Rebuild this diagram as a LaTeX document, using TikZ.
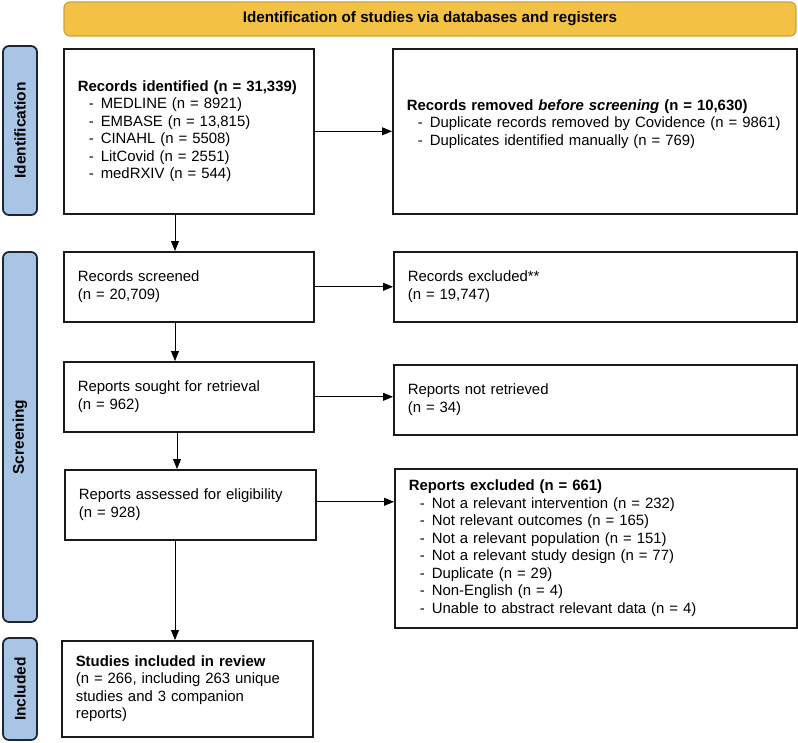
\documentclass[tikz,border=0pt]{standalone}
\usepackage{fontspec}
\setmainfont{Liberation Sans}
\usetikzlibrary{arrows.meta}
\definecolor{bannerfill}{HTML}{F3C244}
\definecolor{bannerdraw}{HTML}{C9A33E}
\definecolor{sidefill}{HTML}{A9C5E6}
\definecolor{sidedraw}{HTML}{1E2633}
\definecolor{boxdraw}{HTML}{1A1A1A}
\newcommand{\itm}[1]{\\\hspace*{11pt}\makebox[12pt][l]{-}#1}
\begin{document}
\begin{tikzpicture}[x=1pt,y=-1pt,
  font=\fontsize{14.9pt}{17.5pt}\selectfont,
  boxstyle/.style={draw=boxdraw,line width=1.6pt,rectangle,anchor=north west,
    inner xsep=14pt,inner ysep=0pt,align=left},
  sidebar/.style={draw=sidedraw,fill=sidefill,line width=1.8pt,rounded corners=6pt},
  sidelabel/.style={rotate=90,font=\bfseries\fontsize{15.5pt}{17pt}\selectfont},
  arr/.style={line width=0.8pt,-{Triangle[length=10pt,width=8pt]}}]
\useasboundingbox (0,0) rectangle (798,742);
% banner
\draw[fill=bannerfill,draw=bannerdraw,line width=1.2pt,rounded corners=6pt] (64,2) rectangle (796,36);
\node[font=\bfseries\fontsize{15.2pt}{17pt}\selectfont] (banner) at (430,19) {Identification of studies via databases and registers};
% sidebars
\draw[sidebar] (3,46) rectangle (37,215);
\node[sidelabel] (lid) at (20,130.5) {Identification};
\draw[sidebar] (3,252) rectangle (37,622);
\node[sidelabel] (lscr) at (20,437) {Screening};
\draw[sidebar] (3,638) rectangle (37,740);
\node[sidelabel] (linc) at (20,689) {Included};
% boxes
\node[boxstyle,minimum width=250pt,minimum height=165pt,text width=222pt] (b1) at (63,48)
 {\textbf{Records identified (n = 31,339)}\itm{MEDLINE (n = 8921)}\itm{EMBASE (n = 13,815)}\itm{CINAHL (n = 5508)}\itm{LitCovid (n = 2551)}\itm{medRXIV (n = 544)}};
\node[boxstyle,minimum width=404pt,minimum height=165pt,text width=376pt] (b2) at (392,48)
 {\textbf{Records removed \textit{before screening} (n = 10,630)}\itm{Duplicate records removed by Covidence (n = 9861)}\itm{Duplicates identified manually (n = 769)}\\\rule{0pt}{1pt}};
\node[boxstyle,minimum width=250pt,minimum height=70pt,text width=222pt] (scr) at (63,251)
 {Records screened\\(n = 20,709)};
\node[boxstyle,minimum width=403pt,minimum height=70pt,text width=375pt] (exc) at (393,251)
 {Records excluded**\\(n = 19,747)};
\node[boxstyle,minimum width=250pt,minimum height=70pt,text width=222pt] (sought) at (63,361)
 {Reports sought for retrieval\\(n = 962)};
\node[boxstyle,minimum width=403pt,minimum height=70pt,text width=375pt] (notret) at (393,364)
 {Reports not retrieved\\(n = 34)};
\node[boxstyle,minimum width=251pt,minimum height=70pt,text width=223pt] (assess) at (64,469)
 {Reports assessed for eligibility\\(n = 928)};
\node[boxstyle,minimum width=402pt,minimum height=159pt,text width=374pt] (rexc) at (394,468)
 {\textbf{Reports excluded (n = 661)}\itm{Not a relevant intervention (n = 232)}\itm{Not relevant outcomes (n = 165)}\itm{Not a relevant population (n = 151)}\itm{Not a relevant study design (n = 77)}\itm{Duplicate (n = 29)}\itm{Non-English (n = 4)}\itm{Unable to abstract relevant data (n = 4)}};
\node[boxstyle,minimum width=251pt,minimum height=96pt,text width=223pt] (incl) at (61,640)
 {\textbf{Studies included in review}\\(n = 266, including 263 unique\\studies and 3 companion\\reports)};
% connectors
\coordinate (ax) at (175,0);
\coordinate (ax2) at (177,0);
\draw[arr] (b1.east) -- (b1.east -| b2.west);
\draw[arr] (scr.east) -- (scr.east -| exc.west);
\draw[arr] (sought.east) -- (sought.east -| notret.west);
\draw[arr] ([yshift=3pt]assess.east) -- ([yshift=3pt]assess.east -| rexc.west);
\draw[arr] (b1.south -| ax) -- (scr.north -| ax);
\draw[arr] (scr.south -| ax) -- (sought.north -| ax);
\draw[arr] (sought.south -| ax2) -- (assess.north -| ax2);
\draw[arr] (assess.south -| ax) -- (incl.north -| ax);
\end{tikzpicture}
\end{document}
